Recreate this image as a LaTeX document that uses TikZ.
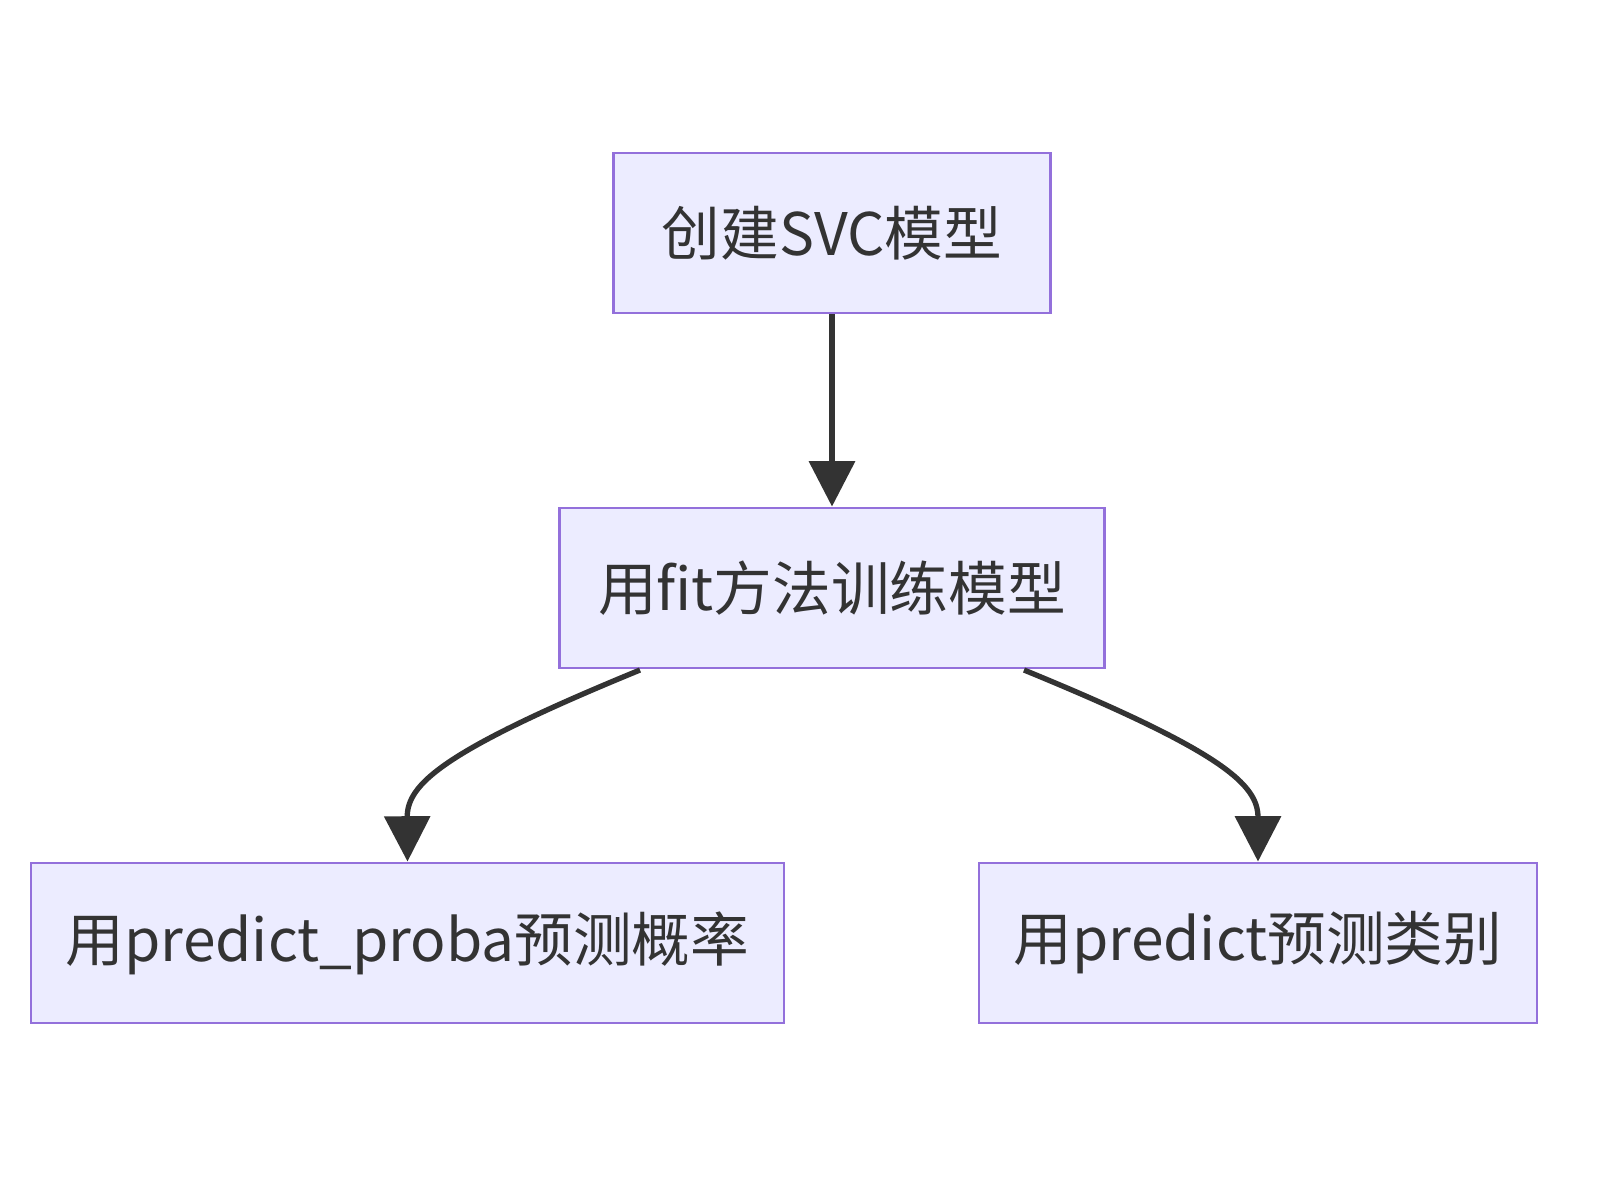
\documentclass[tikz,border=0pt]{standalone}
\usepackage{fontspec}
\setmainfont{Noto Sans CJK SC}
\usetikzlibrary{arrows.meta}
\definecolor{boxfill}{HTML}{ECECFF}
\definecolor{boxline}{HTML}{9370DB}
\definecolor{arr}{HTML}{333333}
\begin{document}
\begin{tikzpicture}[x=0.75pt,y=-0.75pt,
  box/.style={draw=boxline,fill=boxfill,line width=2.2pt,inner sep=0pt,
    minimum height=120pt,text=arr,font=\fontsize{44}{50}\selectfont},
  link/.style={draw=arr,line width=4pt,-{Triangle[length=34pt,width=34pt]}}]
\useasboundingbox (0,0) rectangle (1600,1200);
\node[box,minimum width=327.75pt] (a) at (832,233) {创建SVC模型};
\node[box,minimum width=408.75pt] (b) at (832,588) {用fit方法训练模型};
\node[box,minimum width=564.75pt] (c) at (407.5,943) {用predict\_proba预测概率};
\node[box,minimum width=418.5pt] (d) at (1258,943) {用predict预测类别};
\coordinate (s1) at (640,670);
\coordinate (s2) at (1024,670);
\draw[link] (a.south) -- (b.north);
\draw[link] (s1) .. controls (440,752) and (407,785) .. (c.north);
\draw[link] (s2) .. controls (1224,752) and (1258,785) .. (d.north);
\end{tikzpicture}
\end{document}
